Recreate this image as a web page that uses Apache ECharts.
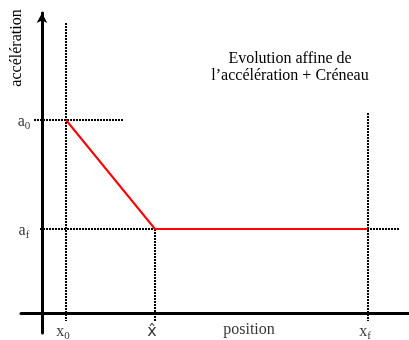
<!DOCTYPE html>
<html>
<head>
<meta charset="utf-8">
<script src="https://cdn.jsdelivr.net/npm/echarts@6/dist/echarts.min.js"></script>
<style>html,body{margin:0;padding:0;background:#fff}#c{width:409px;height:340px}</style>
</head>
<body>
<div id="c"></div>
<script>
// ---- data (arbitrary units) ----
const xRange = [-2.1, 36.7];
const yRange = [-2.0, 30.0];
// positions on the position axis
const posKeys = ['x0', 'xhat', 'xf'];
const posValues = [2.4, 11.3, 32.6];
// acceleration levels
const accKeys = ['a0', 'af'];
const accValues = [19.3, 8.4];
// red curve: affine decrease then constant
const curveX = [2.4, 11.3, 32.6];
const curveY = [19.3, 8.4, 8.4];
// dotted guide lines: [x1, y1, x2, y2]
const guideX0 = [2.4, 29.0, 2.4, -0.8];
const guideA0 = [-0.8, 19.3, 8.1, 19.3];
const guideAf = [-0.2, 8.4, 35.8, 8.4];
const guideXhat = [11.3, 8.4, 11.3, -0.8];
const guideXf = [32.6, 20.0, 32.6, -0.8];
// texts
const titleText = 'Evolution affine de\nl\u2019accélération + Créneau';
const yName = 'accélération';
const xName = 'position';
const xNamePos = [20.7, 0];
const accLabels = ['a{sub|0}', 'a{sub|f}'];
const posLabels = ['x{sub|0}', '{hat|x\u0302}', 'x{sub|f}'];

const serif = '"Liberation Serif", "Times New Roman", serif';
const rich = {
  sub: { fontSize: 11, fontFamily: serif, color: '#000', padding: [9, 0, 0, 0] },
  hat: { fontSize: 16, fontFamily: '"DejaVu Sans", sans-serif', color: '#000' }
};

function guide(g) {
  return {
    type: 'line', symbol: 'none', silent: true, z: 2,
    lineStyle: { color: '#000', width: 2, type: [2, 1] },
    data: [[g[0], g[1]], [g[2], g[3]]]
  };
}

const chart = echarts.init(document.getElementById('c'), null, { renderer: 'canvas' });
chart.setOption({
  animation: false,
  backgroundColor: '#fff',
  title: {
    text: titleText, left: 285, top: 45, textAlign: 'center',
    textStyle: { fontFamily: serif, fontSize: 16, fontWeight: 'normal', color: '#000', lineHeight: 17 }
  },
  grid: { left: 21, right: 0, top: 13, bottom: 7, containLabel: false },
  xAxis: {
    type: 'value', min: xRange[0], max: xRange[1],
    axisLine: { onZero: true, lineStyle: { color: '#000', width: 3 } },
    axisTick: { show: false }, axisLabel: { show: false }, splitLine: { show: false }
  },
  yAxis: {
    type: 'value', min: yRange[0], max: yRange[1],
    axisLine: { onZero: true, symbol: ['none', 'arrow'], symbolSize: [8, 10], lineStyle: { color: '#000', width: 3 } },
    axisTick: { show: false }, axisLabel: { show: false }, splitLine: { show: false }
  },
  graphic: [{
    type: 'text', x: 17, y: 48, rotation: Math.PI / 2,
    style: { text: yName, fontFamily: serif, fontSize: 16, fill: '#000', align: 'center', verticalAlign: 'middle' }
  }],
  series: [
    guide(guideX0), guide(guideA0), guide(guideAf), guide(guideXhat), guide(guideXf),
    {
      type: 'line', symbol: 'none', z: 5,
      lineStyle: { color: '#ff0000', width: 2 },
      data: curveX.map((x, i) => [x, curveY[i]])
    },
    {
      type: 'scatter', symbolSize: 0, silent: true, z: 6,
      data: accValues.map((v, i) => ({ value: [0, v], name: accLabels[i] })),
      label: {
        show: true, position: 'inside', offset: [-18, 2], formatter: p => p.name,
        fontFamily: serif, fontSize: 16, color: '#000', rich: rich
      }
    },
    {
      type: 'scatter', symbolSize: 0, silent: true, z: 6,
      data: posValues.map((v, i) => ({ value: [v, 0], name: posLabels[i] })),
      label: {
        show: true, position: 'inside', offset: [-3, 19], formatter: p => p.name,
        fontFamily: serif, fontSize: 16, color: '#000', rich: rich
      }
    },
    {
      type: 'scatter', symbolSize: 0, silent: true, z: 6,
      data: [{ value: xNamePos, name: xName }],
      label: {
        show: true, position: 'inside', offset: [0, 17], formatter: p => p.name,
        fontFamily: serif, fontSize: 16, color: '#000'
      }
    }
  ]
});
</script>
</body>
</html>
